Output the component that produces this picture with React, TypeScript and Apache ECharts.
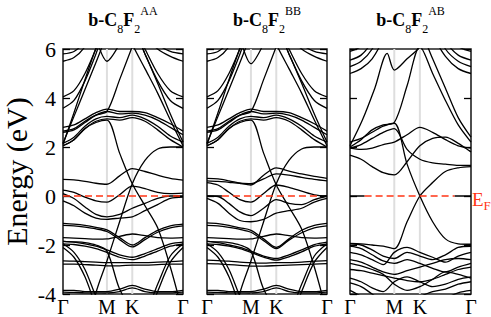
import React, { useEffect, useRef } from "react";
import * as echarts from "echarts";

// k-path: Γ(0) – M(1) – K(1.5774) – Γ(2.732)
const kPoints = [0, 0.25, 0.5, 0.75, 1, 1.2887, 1.5774, 1.866, 2.1547, 2.4434, 2.732];
const kLabelPos = [0, 1, 1.5774, 2.732];
const kLabels = ["Γ", "M", "K", "Γ"];
const yMin = -4;
const yMax = 6;
const yStep = 2;
const stackNames = ["AA", "BB", "AB"];

// Fermi-level dashed segment extent per panel (k units), and black flat pieces at E=0
const efStart = [0, 0.34, 0.33];
const efEnd = [2.732, 2.57, 2.36];
const efBlack: number[][][][] = [
  [],
  [[[0, 0], [0.34, 0]], [[2.57, 0], [2.732, 0]]],
  [[[0, 0], [0.33, 0]], [[2.36, 0], [2.732, 0]]],
];

type Band = number[] | number[][];

const bandsAA: Band[] = [
  [2.05, 2.3, 2.75, 3.05, 3.15, 3.1, 3.2, 3.05, 2.7, 2.3, 2.0],
  [2.15, 2.4, 2.85, 3.15, 3.25, 3.2, 3.3, 3.15, 2.85, 2.45, 2.2],
  [2.6, 2.7, 3.0, 3.3, 3.45, 3.35, 3.38, 3.3, 3.1, 2.8, 2.5],
  [2.8, 2.9, 3.15, 3.4, 3.55, 3.45, 3.45, 3.4, 3.2, 2.95, 2.65],
  [3.58, 3.9, 4.7, 5.8, 7, 7.5, 7, 5.8, 4.7, 3.9, 3.58],
  [4.05, 4.3, 5.0, 6.0, 7, 7.5, 7, 6.0, 5.0, 4.3, 4.05],
  [5.5, 5.65, 6.1, 7, 7.5, 7.5, 7.5, 6.5, 6.0, 5.7, 5.5],
  [5.8, 5.9, 6.3, 7, 8, 8, 8, 6.8, 6.2, 5.9, 5.8],
  [2.1, 3.4, 4.75, 6.05, 7.3, 7.5, 6.2, 5.2, 4.2, 3.1, 2.05],
  [2.15, 3.25, 4.35, 5.45, 6.55, 7.5, 7.0, 5.8, 4.6, 3.35, 2.2],
  [8, 8, 7.5, 6.4, 5.5, 6.2, 7.2, 8, 8, 8, 8],
  [2.65, 2.75, 3.05, 3.3, 3.45, 4.75, 6.1, 7.5, 8, 8, 8],
  [2.05, 2.3, 2.75, 3.0, 3.1, 1.75, 0.5, -0.4, -1.3, -2.9, -4.8],
  [-6, -6, -6, -3.95, -2.65, -1.05, 0.5, 1.45, 1.92, 2.0, 2.0],
  [0.68, 0.66, 0.6, 0.52, 0.48, 0.82, 1.12, 1.0, 0.85, 0.72, 0.65],
  [0.24, 0.15, -0.05, -0.2, -0.25, 0.05, 0.4, 0.3, 0.15, 0.1, 0.12],
  [0.1, -0.1, -0.45, -0.75, -0.85, -0.75, -0.5, -0.3, -0.1, 0.0, 0.0],
  [-0.2, -0.4, -0.7, -0.9, -0.95, -0.9, -0.85, -0.6, -0.35, -0.1, -0.05],
  [-1.12, -1.15, -1.2, -1.28, -1.38, -1.7, -2.0, -1.7, -1.4, -1.22, -1.15],
  [-1.2, -1.22, -1.27, -1.34, -1.45, -1.78, -2.08, -1.78, -1.48, -1.3, -1.22],
  [-1.7, -1.72, -1.74, -1.76, -1.75, -1.65, -1.55, -1.62, -1.7, -1.72, -1.7],
  [-1.85, -1.88, -1.95, -2.05, -2.2, -2.4, -2.5, -2.35, -2.15, -1.95, -1.88],
  [-1.95, -1.98, -2.05, -2.15, -2.3, -2.5, -2.6, -2.45, -2.25, -2.05, -1.95],
  [-2.65, -2.66, -2.68, -2.7, -2.72, -2.72, -2.72, -2.72, -2.7, -2.68, -2.65],
  [-2.78, -2.78, -2.8, -2.82, -2.85, -2.85, -2.82, -2.82, -2.8, -2.78, -2.78],
  [-1.95, -2.3, -3.0, -4.1, -5, -5, -5, -4.8, -3.6, -2.45, -1.95],
  [-2.1, -2.5, -3.3, -4.5, -5.5, -5.5, -5.5, -5.2, -3.9, -2.7, -2.1],
  [-3.85, -3.85, -3.9, -3.9, -3.9, -3.8, -3.65, -3.8, -3.9, -3.9, -3.85],
  [-3.92, -3.93, -3.95, -3.95, -3.96, -3.9, -3.75, -3.9, -3.95, -3.95, -3.92],
  [-1.85, -1.87, -1.9, -2.0, -2.25, -3.8, -4.6, -5, -5, -5, -5],
];

const bandsBB: Band[] = [
  [2.05, 2.3, 2.75, 3.05, 3.15, 3.1, 3.2, 3.05, 2.7, 2.3, 2.0],
  [2.15, 2.4, 2.85, 3.15, 3.25, 3.2, 3.3, 3.15, 2.85, 2.45, 2.2],
  [2.6, 2.7, 3.0, 3.3, 3.45, 3.35, 3.38, 3.3, 3.1, 2.8, 2.5],
  [2.8, 2.9, 3.15, 3.4, 3.55, 3.45, 3.45, 3.4, 3.2, 2.95, 2.65],
  [3.58, 3.9, 4.7, 5.8, 7, 7.5, 7, 5.8, 4.7, 3.9, 3.58],
  [4.05, 4.3, 5.0, 6.0, 7, 7.5, 7, 6.0, 5.0, 4.3, 4.05],
  [5.5, 5.65, 6.1, 7, 7.5, 7.5, 7.5, 6.5, 6.0, 5.7, 5.5],
  [5.8, 5.9, 6.3, 7, 8, 8, 8, 6.8, 6.2, 5.9, 5.8],
  [2.1, 3.4, 4.75, 6.05, 7.3, 7.5, 6.2, 5.2, 4.2, 3.1, 2.05],
  [2.15, 3.25, 4.35, 5.45, 6.55, 7.5, 7.0, 5.8, 4.6, 3.35, 2.2],
  [8, 8, 7.5, 6.4, 5.4, 6.2, 7.2, 8, 8, 8, 8],
  [2.65, 2.75, 3.05, 3.3, 3.45, 4.75, 6.1, 7.5, 8, 8, 8],
  [2.05, 2.3, 2.75, 3.0, 3.1, 1.75, 0.45, -0.45, -1.35, -2.9, -4.8],
  [-6, -6, -6, -3.95, -2.65, -1.05, 0.5, 1.45, 1.92, 2.0, 2.0],
  [0.72, 0.7, 0.62, 0.52, 0.45, 0.85, 1.15, 1.02, 0.9, 0.8, 0.72],
  [0.62, 0.6, 0.56, 0.52, 0.5, 0.7, 0.9, 0.85, 0.76, 0.68, 0.62],
  [0.55, 0.45, 0.15, -0.15, -0.25, 0.1, 0.45, 0.35, 0.2, 0.05, 0.0],
  [0.0, -0.02, -0.3, -0.65, -0.8, -0.5, -0.15, -0.3, -0.35, -0.15, 0.0],
  [-0.1, -0.3, -0.7, -1.0, -1.05, -0.95, -0.7, -0.6, -0.5, -0.25, -0.1],
  [-1.1, -1.13, -1.2, -1.3, -1.4, -1.75, -2.1, -1.75, -1.4, -1.2, -1.12],
  [-1.2, -1.22, -1.28, -1.36, -1.48, -1.82, -2.15, -1.8, -1.5, -1.3, -1.22],
  [-1.7, -1.72, -1.74, -1.76, -1.75, -1.65, -1.55, -1.62, -1.7, -1.72, -1.7],
  [-1.85, -1.9, -2.0, -2.1, -2.25, -2.45, -2.55, -2.4, -2.2, -1.98, -1.88],
  [-1.95, -1.98, -2.05, -2.15, -2.3, -2.5, -2.62, -2.48, -2.28, -2.05, -1.95],
  [-2.62, -2.64, -2.66, -2.7, -2.72, -2.74, -2.72, -2.72, -2.7, -2.66, -2.64],
  [-2.76, -2.77, -2.8, -2.83, -2.86, -2.86, -2.84, -2.82, -2.8, -2.78, -2.76],
  [-1.95, -2.3, -3.0, -4.1, -5, -5, -5, -4.8, -3.6, -2.45, -1.95],
  [-2.1, -2.5, -3.3, -4.5, -5.5, -5.5, -5.5, -5.2, -3.9, -2.7, -2.1],
  [-3.85, -3.85, -3.9, -3.9, -3.9, -3.8, -3.65, -3.8, -3.9, -3.9, -3.85],
  [-3.92, -3.93, -3.95, -3.95, -3.96, -3.9, -3.75, -3.9, -3.95, -3.95, -3.92],
  [-1.85, -1.87, -1.9, -2.0, -2.25, -3.8, -4.6, -5, -5, -5, -5],
];

const bandsAB: Band[] = [
  [5.9, 6.1, 6.6, 7.5, 8, 8, 8, 7.5, 6.6, 6.1, 5.9],
  [5.55, 5.75, 6.3, 7.2, 8, 8, 8, 7.2, 6.3, 5.75, 5.55],
  [5.28, 5.5, 6.0, 7.0, 8, 8, 8, 7.0, 6.0, 5.5, 5.28],
  [5.0, 5.2, 5.6, 6.4, 7.5, 8, 8, 6.6, 5.7, 5.2, 5.0],
  [[0, 2.05], [0.28, 3.1], [0.56, 4.4], [0.84, 5.82], [1, 5.14], [1.2887, 5.6], [1.5774, 6.1], [1.75, 7]],
  [2.0, 2.3, 2.7, 2.9, 3.0, 4.5, 6.1, 5.0, 3.9, 2.9, 2.2],
  [8, 8, 8, 8, 8, 7.5, 6.8, 5.6, 4.4, 3.2, 2.4],
  [2.2, 2.35, 2.6, 2.85, 2.97, 1.3, 0.0, -1.05, -1.75, -1.95, -1.97],
  [1.95, 2.1, 2.35, 2.6, 2.75, 1.9, 1.5, 1.35, 1.3, 1.25, 1.25],
  [1.67, 1.5, 1.2, 0.95, 0.86, 1.4, 2.05, 2.35, 2.4, 2.15, 1.8],
  [-1.93, -1.95, -2.0, -2.05, -2.15, -1.05, 0.0, 0.55, 1.0, 1.15, 1.2],
  [1.95, 1.9, 1.95, 2.1, 2.2, 2.5, 2.8, 2.6, 2.3, 2.05, 1.95],
  [-1.95, -2.0, -2.2, -2.45, -2.55, -2.3, -2.45, -2.6, -2.4, -2.1, -2.05],
  [-2.05, -2.15, -2.4, -2.65, -2.75, -2.6, -2.75, -2.95, -3.1, -2.9, -2.75],
  [-2.3, -2.4, -2.6, -2.8, -2.3, -2.1, -2.3, -2.5, -2.7, -2.45, -2.3],
  [-2.6, -2.7, -2.9, -3.1, -3.2, -3.05, -2.9, -2.75, -2.6, -2.55, -2.6],
  [-2.75, -2.85, -3.0, -3.2, -3.6, -3.85, -3.7, -3.4, -3.1, -3.2, -3.35],
  [-3.0, -3.05, -3.15, -3.25, -3.35, -3.45, -3.5, -3.4, -3.2, -3.0, -2.9],
  [-3.35, -3.5, -3.75, -3.9, -3.5, -3.3, -3.5, -3.7, -3.6, -3.4, -3.3],
  [-3.55, -3.7, -4.0, -4.3, -4.4, -4.3, -4.1, -3.9, -3.8, -3.6, -3.5],
  [-3.85, -4.1, -4.5, -5, -5, -5, -5, -4.6, -4.2, -3.95, -3.85],
];

const panelBands: Band[][] = [bandsAA, bandsBB, bandsAB];

const SERIF = "'Liberation Serif', 'DejaVu Serif', serif";
const RED = "#ff3514";

function toPairs(b: Band): number[][] {
  if (typeof b[0] === "number") return (b as number[]).map((e, i) => [kPoints[i], e]);
  return b as number[][];
}

export default function App() {
  const ref = useRef<HTMLDivElement>(null);
  useEffect(() => {
    if (!ref.current) return;
    const chart = echarts.init(ref.current, undefined, { renderer: "svg" });
    const gridBoxes = [
      { left: 63, top: 49, width: 120, height: 245 },
      { left: 207, top: 49, width: 120, height: 245 },
      { left: 350, top: 49, width: 121, height: 245 },
    ];
    const grid = gridBoxes.map((g) => ({
      ...g,
      show: true,
      borderColor: "#222",
      borderWidth: 1.6,
      backgroundColor: "transparent",
    }));
    const xAxis = gridBoxes.map((_, i) => ({
      type: "value",
      gridIndex: i,
      min: kPoints[0],
      max: kPoints[kPoints.length - 1],
      axisLine: { show: false },
      axisTick: { show: false },
      splitLine: { show: false },
      axisLabel: {
        customValues: kLabelPos,
        formatter: (v: number) => {
          const idx = kLabelPos.findIndex((p) => Math.abs(p - v) < 1e-6);
          return idx >= 0 ? kLabels[idx] : "";
        },
        fontFamily: SERIF,
        fontSize: 20,
        color: "#000",
        margin: 3,
      },
    }));
    const yAxis: any[] = [];
    gridBoxes.forEach((_, i) => {
      const base = {
        type: "value",
        gridIndex: i,
        min: yMin,
        max: yMax,
        interval: yStep,
        axisLine: { show: false },
        splitLine: { show: false },
        axisTick: { show: true, inside: true, length: 7, lineStyle: { color: "#000", width: 1.3 } },
      };
      yAxis.push({
        ...base,
        position: "left",
        axisLabel: {
          show: i === 0,
          fontFamily: SERIF,
          fontSize: 22,
          color: "#000",
          margin: 7,
        },
        name: i === 0 ? "Energy (eV)" : "",
        nameLocation: "middle",
        nameGap: 32,
        nameTextStyle: { fontFamily: SERIF, fontSize: 30, color: "#000" },
      });
      yAxis.push({ ...base, position: "right", axisLabel: { show: false } });
    });

    const series: any[] = [];
    gridBoxes.forEach((_, i) => {
      [kLabelPos[1], kLabelPos[2]].forEach((kv) => {
        series.push({
          type: "line",
          xAxisIndex: i,
          yAxisIndex: 2 * i,
          data: [
            [kv, yMin],
            [kv, yMax],
          ],
          showSymbol: false,
          silent: true,
          z: 1,
          lineStyle: { color: "#dedede", width: 2 },
        });
      });
      panelBands[i].forEach((b) => {
        series.push({
          type: "line",
          xAxisIndex: i,
          yAxisIndex: 2 * i,
          data: toPairs(b),
          showSymbol: false,
          smooth: 0.3,
          silent: true,
          clip: true,
          z: 2,
          lineStyle: { color: "#000", width: 1.3 },
        });
      });
      efBlack[i].forEach((seg) => {
        series.push({
          type: "line",
          xAxisIndex: i,
          yAxisIndex: 2 * i,
          data: seg,
          showSymbol: false,
          silent: true,
          z: 2,
          lineStyle: { color: "#000", width: 1.5 },
        });
      });
      series.push({
        type: "line",
        xAxisIndex: i,
        yAxisIndex: 2 * i,
        data: [
          [efStart[i], 0],
          [efEnd[i], 0],
        ],
        showSymbol: false,
        silent: true,
        z: 3,
        lineStyle: { color: RED, width: 1.5, type: [7, 4] },
      });
    });

    const graphic: any[] = gridBoxes.map((g, i) => ({
      type: "text",
      x: g.left + g.width / 2,
      y: 20,
      style: {
        text: `{m|b-C}{s|8}{m|F}{s|2}{p|${stackNames[i]}}`,
        align: "center",
        verticalAlign: "middle",
        fill: "#000",
        rich: {
          m: { fontFamily: SERIF, fontSize: 18, fontWeight: "bold", lineHeight: 30, verticalAlign: "middle", fill: "#000" },
          s: { fontFamily: SERIF, fontSize: 12, lineHeight: 21, verticalAlign: "bottom", fill: "#000" },
          p: { fontFamily: SERIF, fontSize: 12, lineHeight: 10, verticalAlign: "top", fill: "#000" },
        },
      },
    }));
    graphic.push({
      type: "text",
      x: 472,
      y: 199,
      style: {
        text: "{e|E}{f|F}",
        align: "left",
        verticalAlign: "middle",
        rich: {
          e: { fontFamily: SERIF, fontSize: 19, lineHeight: 26, verticalAlign: "middle", fill: RED },
          f: { fontFamily: SERIF, fontSize: 13, lineHeight: 12, verticalAlign: "bottom", fill: RED },
        },
      },
    });

    chart.setOption({
      animation: false,
      backgroundColor: "#fff",
      grid,
      xAxis,
      yAxis,
      series,
      graphic,
    });
    return () => chart.dispose();
  }, []);
  return (
    <div
      ref={ref}
      style={{ position: "absolute", left: 0, top: 0, width: 491, height: 317 }}
    />
  );
}
